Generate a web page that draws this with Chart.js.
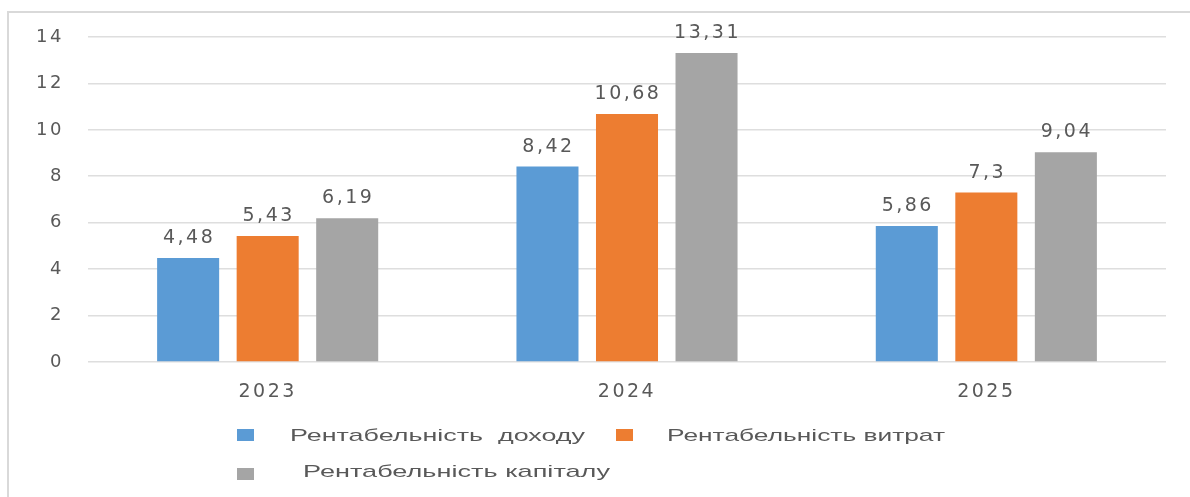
<!DOCTYPE html>
<html>
<head>
<meta charset="utf-8">
<script src="https://cdn.jsdelivr.net/npm/chart.js@4.4.1/dist/chart.umd.min.js"></script>
<style>
  body { margin: 0; background: #fff; }
  #wrap { position: relative; width: 1190px; height: 497px; background: #fff; overflow: hidden; }
  #frame { position: absolute; left: 7px; top: 11px; right: -4px; bottom: -4px;
           border-left: 2px solid #d9d9d9; border-top: 2px solid #d9d9d9; }
  #chart { position: absolute; left: 0; top: 0; }
  .lg-box { position: absolute; }
  .lg-text { position: absolute; white-space: pre; font: 17px "Liberation Sans", Arial, sans-serif;
             color: #595959; line-height: 20px; transform-origin: left center; }
</style>
</head>
<body>
<div id="wrap">
  <div id="frame"></div>
  <canvas id="chart" width="1190" height="497"></canvas>
  <div id="legend"></div>
</div>
<script>
// Chart data
const categories = ["2023", "2024", "2025"];
const seriesNames = ["Рентабельність  доходу", "Рентабельність витрат", "Рентабельність капіталу"];
const incomeValues = [4.48, 8.42, 5.86];
const costValues = [5.43, 10.68, 7.3];
const capitalValues = [6.19, 13.31, 9.04];
const yTickLabels = ["0", "2", "4", "6", "8", "10", "12", "14"];

const colors = ["#5B9BD5", "#ED7D31", "#A5A5A5"];
const textColor = "#595959";

// spacing for canvas text so it spreads like the original
const spacingPlugin = {
    id: "spacing",
    beforeDraw(chart) {
        chart.ctx.letterSpacing = "2.5px";
    }
};

// values above the bars
const valueLabels = {
    id: "valueLabels",
    afterDatasetsDraw(chart) {
        const ctx = chart.ctx;
        ctx.save();
        ctx.font = "19px 'DejaVu Sans'";
        ctx.fillStyle = textColor;
        ctx.textAlign = "center";
        ctx.textBaseline = "alphabetic";
        chart.data.datasets.forEach(function (ds, i) {
            chart.getDatasetMeta(i).data.forEach(function (bar, j) {
                const txt = String(ds.data[j]).replace(".", ",");
                ctx.fillText(txt, bar.x + 1, bar.y - 15);
            });
        });
        ctx.restore();
    }
};

const chart = new Chart(document.getElementById("chart"), {
    type: "bar",
    data: {
        labels: categories,
        datasets: [
            { label: seriesNames[0], data: incomeValues, backgroundColor: colors[0] },
            { label: seriesNames[1], data: costValues, backgroundColor: colors[1] },
            { label: seriesNames[2], data: capitalValues, backgroundColor: colors[2] }
        ]
    },
    options: {
        responsive: false,
        animation: false,
        categoryPercentage: 0.664,
        barPercentage: 0.78,
        layout: { padding: { left: 0, top: 37, right: 24, bottom: 95 } },
        plugins: {
            legend: { display: false },
            tooltip: { enabled: false }
        },
        scales: {
            x: {
                grid: { display: false },
                border: { display: false },
                ticks: { color: textColor, font: { family: "DejaVu Sans", size: 19 }, padding: 11 },
                afterFit(scale) { scale.height = 40; }
            },
            y: {
                min: 0,
                max: 14,
                grid: { color: "#dedede", lineWidth: 1.6, drawTicks: false },
                border: { display: false },
                ticks: {
                    stepSize: 2,
                    color: textColor,
                    font: { family: "DejaVu Sans", size: 18 },
                    padding: 24,
                    callback: function (v, i) { return yTickLabels[i]; }
                },
                afterFit(scale) { scale.width = 88; }
            }
        }
    },
    plugins: [spacingPlugin, valueLabels]
});

// HTML legend laid out like the original (two rows)
const legendSpots = [
    { box: [237, 429], text: 290, mid: 436, width: 295 },
    { box: [616, 429], text: 667, mid: 436, width: 278 },
    { box: [237, 468], text: 303, mid: 472, width: 307 }
];
const legend = document.getElementById("legend");
chart.data.datasets.forEach(function (ds, i) {
    const spot = legendSpots[i];
    const box = document.createElement("div");
    box.className = "lg-box";
    box.style.cssText = "left:" + spot.box[0] + "px;top:" + spot.box[1] + "px;width:17px;height:12px;background:" + ds.backgroundColor;
    legend.appendChild(box);

    const span = document.createElement("span");
    span.className = "lg-text";
    span.textContent = ds.label;
    span.style.left = spot.text + "px";
    span.style.top = (spot.mid - 10) + "px";
    legend.appendChild(span);
    const w = span.getBoundingClientRect().width;
    span.style.transform = "scaleX(" + (spot.width / w).toFixed(3) + ")";
});
</script>
</body>
</html>
